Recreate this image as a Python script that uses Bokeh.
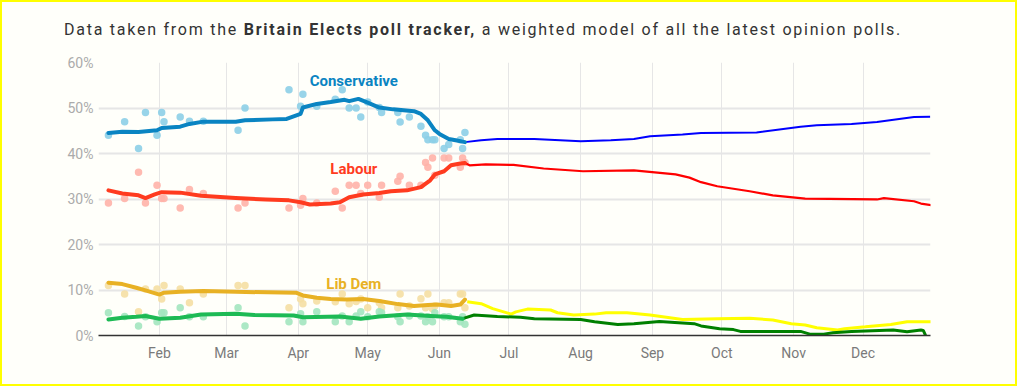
import pandas as pd
from bokeh.plotting import figure
from bokeh.models import (Range1d, MonthsTicker, DatetimeTickFormatter, FixedTicker,
                          PrintfTickFormatter, Label, Div)
from bokeh.layouts import column
from bokeh.embed import file_html
from bokeh.resources import INLINE

# ---------------- data ----------------
# Individual opinion polls (dots)
poll_dates = ["2024-01-10", "2024-01-17", "2024-01-23", "2024-01-26", "2024-01-31", "2024-02-02",
              "2024-02-03", "2024-02-10", "2024-02-14", "2024-02-20", "2024-03-06", "2024-03-09",
              "2024-03-28", "2024-04-02", "2024-04-03", "2024-04-09", "2024-04-17", "2024-04-20",
              "2024-04-23", "2024-04-26", "2024-04-28", "2024-05-01", "2024-05-06", "2024-05-07",
              "2024-05-14", "2024-05-15", "2024-05-19", "2024-05-24", "2024-05-26", "2024-05-27",
              "2024-05-29", "2024-05-30", "2024-06-03", "2024-06-05", "2024-06-10", "2024-06-11",
              "2024-06-12"]
con_poll = [44.0, 47.0, 41.1, 49.0, 44.0, 49.0, 47.0, 48.0, 47.1, 47.1, 45.1, 50.0,
            54.0, 50.4, 53.0, 50.4, 51.9, 54.0, 50.0, 50.0, 48.0, 51.3, 50.1, 49.0,
            49.0, 46.9, 48.0, 46.0, 44.0, 43.0, 43.0, 43.0, 41.1, 42.0, 43.0, 41.1, 44.6]
lab_poll = [29.1, 30.1, 35.9, 29.1, 33.0, 30.1, 30.1, 28.0, 32.1, 31.2, 28.0, 29.1,
            28.0, 28.6, 30.1, 29.1, 31.7, 28.0, 33.0, 33.0, 31.2, 33.0, 30.4, 33.0,
            33.9, 35.0, 33.0, 33.0, 38.0, 37.0, 39.0, 35.2, 39.0, 39.0, 37.0, 39.0, 38.0]
ld_poll = [11.0, 9.1, 5.2, 10.2, 10.2, 8.0, 11.0, 10.2, 7.2, 9.1, 11.0, 11.0,
           6.1, 8.0, 7.0, 7.6, 7.4, 9.1, 7.0, 7.5, 8.0, 6.1, 7.2, 6.1,
           6.1, 9.1, 6.5, 8.1, 6.1, 9.1, 5.9, 6.5, 7.2, 7.2, 9.1, 9.1, 6.1]
grn_poll = [5.0, 4.2, 2.1, 4.1, 3.0, 5.0, 5.0, 6.1, 4.1, 4.1, 6.1, 2.1,
            3.0, 4.8, 3.0, 5.2, 3.0, 4.3, 3.0, 4.3, 5.2, 4.1, 5.2, 5.0,
            4.1, 3.0, 4.3, 4.3, 3.0, 4.1, 3.0, 5.0, 4.1, 4.1, 3.0, 4.1, 2.5]

# Poll tracker (weighted model) lines
con_dates = ["2024-01-10", "2024-01-16", "2024-01-23", "2024-01-31", "2024-02-02", "2024-02-10",
             "2024-02-14", "2024-02-20", "2024-03-05", "2024-03-09", "2024-03-21", "2024-03-27",
             "2024-04-02", "2024-04-03", "2024-04-09", "2024-04-15", "2024-04-21", "2024-04-23",
             "2024-04-27", "2024-05-01", "2024-05-06", "2024-05-12", "2024-05-21", "2024-05-24",
             "2024-05-27", "2024-05-30", "2024-06-01", "2024-06-05", "2024-06-08", "2024-06-12"]
con_vals = [44.5, 44.8, 44.7, 45.1, 45.6, 45.9, 46.5, 47.0, 47.0, 47.3, 47.5, 47.6,
            48.7, 50.1, 50.9, 51.3, 51.8, 51.5, 52.0, 51.2, 50.1, 49.7, 49.3, 48.7,
            47.3, 45.1, 44.3, 43.2, 42.9, 42.5]

lab_dates = ["2024-01-10", "2024-01-16", "2024-01-23", "2024-01-26", "2024-01-30", "2024-02-02",
             "2024-02-10", "2024-02-19", "2024-03-05", "2024-03-18", "2024-03-28", "2024-04-02",
             "2024-04-06", "2024-04-15", "2024-04-19", "2024-04-23", "2024-04-29", "2024-05-06",
             "2024-05-11", "2024-05-18", "2024-05-24", "2024-05-28", "2024-05-30", "2024-06-03",
             "2024-06-06", "2024-06-10", "2024-06-12"]
lab_vals = [31.9, 31.2, 30.8, 30.2, 31.0, 31.5, 31.4, 30.7, 30.2, 29.9, 29.7, 29.3,
            28.8, 29.0, 29.3, 30.4, 31.0, 31.3, 31.7, 31.9, 32.6, 34.1, 35.4, 36.1,
            37.4, 37.8, 37.9]

ld_dates = ["2024-01-10", "2024-01-16", "2024-01-22", "2024-01-26", "2024-02-01", "2024-02-03",
            "2024-02-10", "2024-02-20", "2024-03-05", "2024-03-31", "2024-04-03", "2024-04-09",
            "2024-04-15", "2024-04-22", "2024-04-29", "2024-05-06", "2024-05-14", "2024-05-21",
            "2024-05-27", "2024-05-31", "2024-06-06", "2024-06-10", "2024-06-12"]
ld_vals = [11.6, 11.3, 10.5, 9.9, 9.0, 9.4, 9.6, 9.8, 9.6, 9.4, 8.8, 8.3,
           8.0, 7.9, 8.0, 7.6, 6.9, 6.5, 6.7, 6.8, 6.5, 6.8, 7.9]

grn_dates = ["2024-01-10", "2024-01-16", "2024-01-22", "2024-01-26", "2024-02-01", "2024-02-10",
             "2024-02-19", "2024-03-05", "2024-03-13", "2024-03-30", "2024-04-03", "2024-04-19",
             "2024-04-28", "2024-05-06", "2024-05-18", "2024-05-28", "2024-06-04", "2024-06-11"]
grn_vals = [3.5, 3.9, 4.1, 4.3, 3.7, 3.9, 4.6, 4.8, 4.5, 4.4, 4.0, 4.2,
            3.7, 4.2, 4.6, 4.3, 4.1, 3.7]

# Continuations after the tracker ends
con_ext_dates = ["2024-06-12", "2024-06-19", "2024-06-26", "2024-07-12", "2024-08-01", "2024-08-14",
                 "2024-08-24", "2024-08-31", "2024-09-14", "2024-09-22", "2024-10-16", "2024-11-04",
                 "2024-11-11", "2024-11-26", "2024-12-07", "2024-12-23", "2024-12-30"]
con_ext_vals = [42.5, 42.9, 43.2, 43.2, 42.7, 42.9, 43.2, 43.8, 44.2, 44.5, 44.6, 45.9,
                46.2, 46.5, 46.9, 48.0, 48.1]

lab_ext_dates = ["2024-06-12", "2024-06-14", "2024-06-21", "2024-07-03", "2024-07-16", "2024-08-02",
                 "2024-08-24", "2024-09-11", "2024-09-17", "2024-09-22", "2024-09-29", "2024-10-13",
                 "2024-10-23", "2024-11-06", "2024-12-07", "2024-12-10", "2024-12-23", "2024-12-26",
                 "2024-12-31"]
lab_ext_vals = [37.9, 37.4, 37.6, 37.5, 36.7, 36.1, 36.3, 35.4, 34.7, 33.7, 32.8, 31.7,
                30.8, 30.1, 29.9, 30.2, 29.5, 29.0, 28.6]

ld_ext_dates = ["2024-06-13", "2024-06-19", "2024-06-24", "2024-07-02", "2024-07-04", "2024-07-09",
                "2024-07-19", "2024-07-22", "2024-07-29", "2024-08-07", "2024-08-12", "2024-08-21",
                "2024-08-31", "2024-09-14", "2024-09-29", "2024-10-13", "2024-10-23", "2024-10-31",
                "2024-11-06", "2024-11-11", "2024-11-20", "2024-11-23", "2024-12-02", "2024-12-13",
                "2024-12-20", "2024-12-31"]
ld_ext_vals = [7.4, 7.0, 5.9, 4.7, 5.2, 5.8, 5.6, 5.0, 4.5, 4.7, 5.0, 5.0,
               4.5, 3.5, 3.7, 3.8, 3.4, 2.6, 2.3, 1.7, 1.2, 1.5, 1.9, 2.4,
               3.0, 3.0]

grn_ext_dates = ["2024-06-11", "2024-06-16", "2024-06-26", "2024-07-06", "2024-07-12", "2024-08-01",
                 "2024-08-07", "2024-08-17", "2024-08-24", "2024-09-04", "2024-09-19", "2024-09-22",
                 "2024-09-30", "2024-10-06", "2024-10-09", "2024-11-04", "2024-11-08", "2024-11-14",
                 "2024-11-18", "2024-11-26", "2024-12-14", "2024-12-20", "2024-12-26", "2024-12-27",
                 "2024-12-28"]
grn_ext_vals = [3.7, 4.5, 4.2, 4.0, 3.7, 3.5, 3.0, 2.4, 2.6, 3.1, 2.6, 2.1,
                1.5, 1.3, 0.9, 0.9, 0.3, 0.3, 0.6, 0.9, 1.2, 0.8, 1.2, 1.1,
                0.0]

y_ticks = [0, 10, 20, 30, 40, 50, 60]
party_labels = ["Conservative", "Labour", "Lib Dem"]
label_date = "2024-04-25"
label_vals = [56.0, 36.5, 11.3]

# ---------------- styles ----------------
BG = "#fffffa"
FONT = "Roboto"
CON, CON_DOT = "#0a84c2", "#8dcfe7"
LAB, LAB_DOT = "#ff3b1f", "#ffb2a8"
LD, LD_DOT = "#e8b124", "#f5dfa3"
GRN, GRN_DOT = "#1dba55", "#a3e5bf"

def d(lst):
    return pd.to_datetime(lst)

p = figure(width=1013, height=334, x_axis_type="datetime",
           output_backend="svg", toolbar_location=None,
           x_range=Range1d(pd.Timestamp("2024-01-05 17:00"), pd.Timestamp("2024-12-30 03:00")),
           y_range=Range1d(0, 60),
           min_border_left=96, min_border_right=85, min_border_top=12, min_border_bottom=49,
           background_fill_color=BG, border_fill_color=BG, outline_line_color=None,
           margin=(0, 0, 0, 0))

# axes
p.xaxis.ticker = MonthsTicker(months=list(range(12)))
p.xaxis.formatter = DatetimeTickFormatter(months="%b", days="%b")
p.xaxis.axis_line_color = "#333333"
p.xaxis.axis_line_width = 1.5
p.xaxis.major_tick_line_color = None
p.xaxis.minor_tick_line_color = None
p.xaxis.major_tick_in = 0
p.xaxis.major_tick_out = 0
p.xaxis.major_label_standoff = 9
p.xaxis.major_label_text_font = FONT
p.xaxis.major_label_text_font_size = "14px"
p.xaxis.major_label_text_color = "#7a7a7a"

p.yaxis.ticker = FixedTicker(ticks=y_ticks)
p.yaxis.formatter = PrintfTickFormatter(format="%d%%")
p.yaxis.axis_line_color = None
p.yaxis.major_tick_line_color = None
p.yaxis.minor_tick_line_color = None
p.yaxis.major_tick_in = 0
p.yaxis.major_tick_out = 0
p.yaxis.major_label_standoff = 5
p.yaxis.major_label_text_font = FONT
p.yaxis.major_label_text_font_size = "14px"
p.yaxis.major_label_text_color = "#ababab"

p.ygrid.grid_line_color = "#e6e6e6"
p.ygrid.grid_line_width = 2
p.xgrid.grid_line_color = "#e6e6e6"
p.xgrid.grid_line_width = 1

# dots
pd_dates = d(poll_dates)
for vals, col in [(con_poll, CON_DOT), (lab_poll, LAB_DOT), (ld_poll, LD_DOT), (grn_poll, GRN_DOT)]:
    p.scatter(pd_dates, vals, size=7.5, fill_color=col, line_color=None, fill_alpha=0.9)

# continuation lines
p.line(d(con_ext_dates), con_ext_vals, line_color="#0000ff", line_width=2)
p.line(d(lab_ext_dates), lab_ext_vals, line_color="#ff0000", line_width=2.2)
p.line(d(ld_ext_dates), ld_ext_vals, line_color="#ffff00", line_width=3)
p.line(d(grn_ext_dates), grn_ext_vals, line_color="#008000", line_width=3)

# tracker lines
for dates, vals, col in [(con_dates, con_vals, CON), (lab_dates, lab_vals, LAB),
                         (ld_dates, ld_vals, LD), (grn_dates, grn_vals, GRN)]:
    p.line(d(dates), vals, line_color=col, line_width=4, line_join="round", line_cap="round")

# party labels
lx = pd.Timestamp(label_date).value / 1e6
for txt, yv, col in zip(party_labels, label_vals, [CON, LAB, LD]):
    p.add_layout(Label(x=lx, y=yv, text=txt, text_font=FONT, text_font_style="bold",
                       text_font_size="15px", text_color=col, text_align="center",
                       text_baseline="middle"))

title = Div(text='<div style="padding:18px 0 0 62px;font-family:Roboto;font-size:16px;'
                 'letter-spacing:1.75px;color:#333333;line-height:20px;white-space:nowrap">'
                 'Data taken from the <b>Britain Elects poll tracker,</b> a weighted model of '
                 'all the latest opinion polls.</div>',
            width=1013, height=48, margin=(0, 0, 0, 0),
            styles={"background-color": BG})

layout = column(title, p, spacing=0, margin=(0, 0, 0, 0), width=1017, height=386,
                styles={"background-color": BG, "border": "2px solid #ffff00",
                        "box-sizing": "border-box"})

open("out.html", "w").write(file_html(layout, INLINE))
